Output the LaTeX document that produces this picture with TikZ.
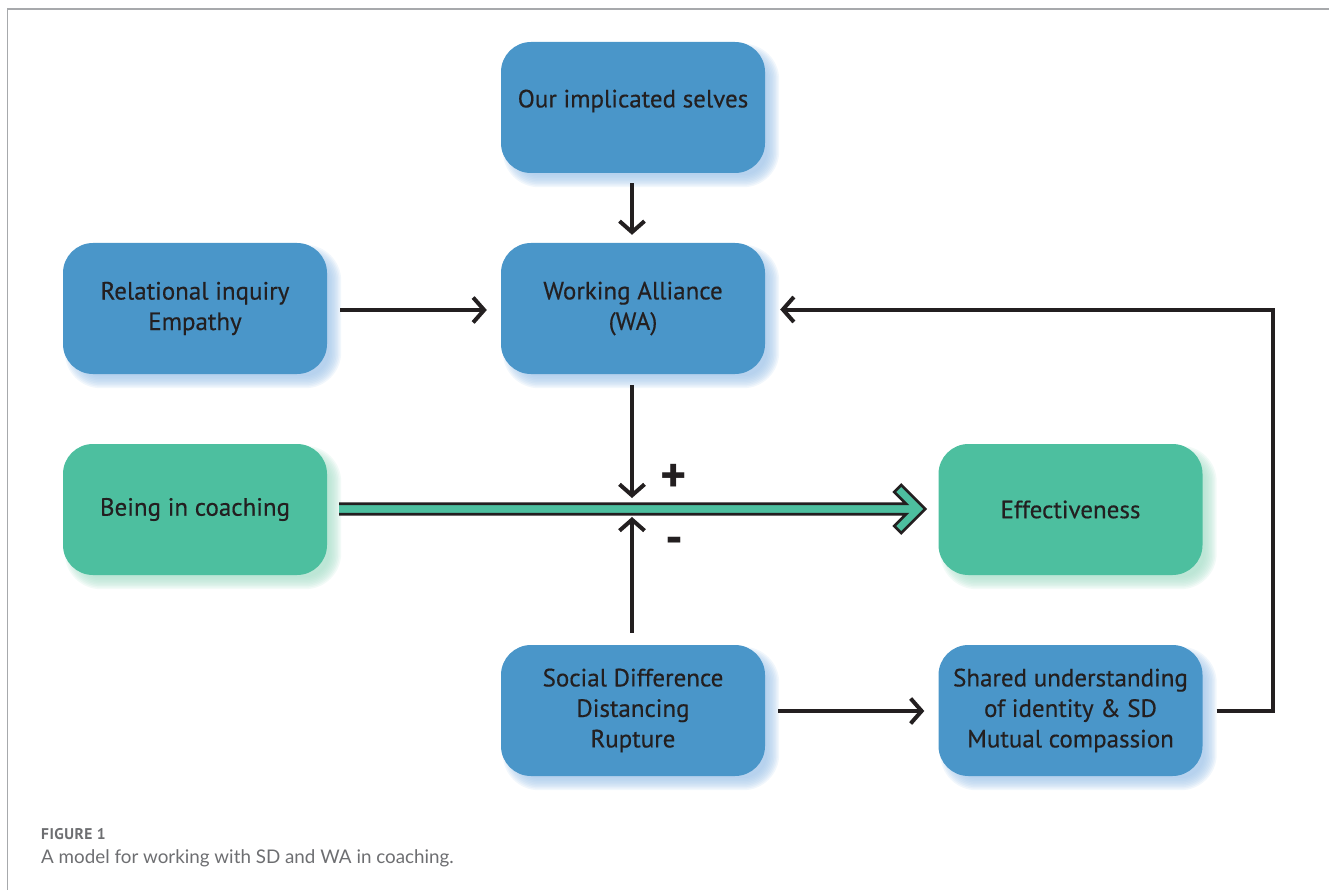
\documentclass[tikz,border=0pt]{standalone}
\usepackage{fontspec}
\setmainfont{PT Sans}
\newfontfamily\boxfont{PT Sans}[FakeBold=0.4]
\newfontfamily\capfont{Lato}
\newfontfamily\caplabelfont{PT Sans}[LetterSpace=3]
\usetikzlibrary{arrows.meta,calc}

\definecolor{boxblue}{HTML}{4A96C9}
\definecolor{boxgreen}{HTML}{4DBF9F}
\definecolor{shblue}{HTML}{9EC3E8}
\definecolor{shgreen}{HTML}{A6DDC8}
\definecolor{ink}{HTML}{231F20}
\definecolor{framegray}{HTML}{A7A9AC}
\definecolor{capgray}{HTML}{6D6E71}

\pgfdeclarelayer{background}
\pgfsetlayers{background,main}

\tikzset{
  box/.style={rounded corners=30pt, minimum width=264pt, minimum height=131pt,
    inner sep=0pt, align=center, text=ink, font=\boxfont\fontsize{25}{30.5}\selectfont},
  bluebox/.style={box, fill=boxblue},
  greenbox/.style={box, fill=boxgreen},
  boxtext/.style={inner sep=0pt, align=center, text=ink, font=\boxfont\fontsize{25}{30.5}\selectfont},
  arr/.style={draw=ink, line width=4pt, -{Straight Barb[length=11pt, width=25pt]}},
  sign/.style={inner sep=0pt, text=ink, font=\bfseries\fontsize{50}{50}\selectfont},
  captext/.style={anchor=base west, inner sep=0pt, text=capgray},
}

% soft drop shadow below and right of a box
\newcommand{\softshadow}[2]{%
  \foreach \d in {6,4.5,...,-6}{%
    \pgfmathsetmacro{\rr}{30+\d}%
    \fill[#2, opacity=0.14, rounded corners=\rr pt]
      ($(#1.south west)+(8-\d,8+\d)$) rectangle ($(#1.north east)+(8+\d,8-\d)$);
  }}

\begin{document}
\begin{tikzpicture}[x=1pt, y=-1pt]
\useasboundingbox (0,0) rectangle (1329,890);

% frame
\draw[framegray, line width=1.6pt] (7.5,890) -- (7.5,9) -- (1329,9);

% boxes
\node[bluebox] (imp) at (633,107.5) {};
\node[boxtext] (imptext) at (633,101) {Our implicated selves};
\node[bluebox] (wa) at (633,308.5) {Working Alliance\\(WA)};
\node[bluebox] (rel) at (195,308.5) {Relational inquiry\\Empathy};
\node[greenbox] (being) at (195,509.5) {Being in coaching};
\node[greenbox] (eff) at (1070.5,509.5) {Effectiveness};
\node[bluebox] (sd) at (633,710.5) {Social Difference\\Distancing\\Rupture};
\node[bluebox] (shared) at (1070.5,710.5) {Shared understanding\\of identity \& SD\\Mutual compassion};

\begin{pgfonlayer}{background}
  \softshadow{imp}{shblue}
  \softshadow{wa}{shblue}
  \softshadow{rel}{shblue}
  \softshadow{sd}{shblue}
  \softshadow{shared}{shblue}
  \softshadow{being}{shgreen}
  \softshadow{eff}{shgreen}
\end{pgfonlayer}

% main green arrow: being in coaching -> effectiveness
\coordinate (gs) at ([xshift=12pt,yshift=0.5pt]being.east);
\coordinate (gt) at ([xshift=-13pt,yshift=0.5pt]eff.west);
\coordinate (jn) at ([xshift=-1pt]wa.south |- gs);
\fill[boxgreen] ($(gs)+(0,-5.3)$) -- ($(gt)+(-19.3,-5.3)$) -- ($(gt)+(-31,-17)$)
  -- ($(gt)+(-24,-24)$) -- (gt) -- ($(gt)+(-24,24)$) -- ($(gt)+(-31,17)$)
  -- ($(gt)+(-19.3,5.3)$) -- ($(gs)+(0,5.3)$) -- cycle;
\draw[ink, line width=2.7pt, miter limit=10] ($(gs)+(0,-5.3)$) -- ($(gt)+(-19.3,-5.3)$)
  -- ($(gt)+(-31,-17)$) -- ($(gt)+(-24,-24)$) -- (gt) -- ($(gt)+(-24,24)$)
  -- ($(gt)+(-31,17)$) -- ($(gt)+(-19.3,5.3)$) -- ($(gs)+(0,5.3)$);

% connectors
\draw[arr] ([xshift=-1pt,yshift=-10pt]imp.south) -- ([xshift=-1pt,yshift=8pt]wa.north);
\draw[arr] ([xshift=13pt,yshift=-1.5pt]rel.east) -- ([xshift=-14pt,yshift=-1.5pt]wa.west);
\draw[arr] ([xshift=-1pt,yshift=-11pt]wa.south) -- ([yshift=11pt]jn);
\draw[arr] ([xshift=-1pt,yshift=12pt]sd.north) -- ([yshift=-8pt]jn);
\draw[arr] ([xshift=13pt,yshift=-0.5pt]sd.east) -- ([xshift=-14pt,yshift=-0.5pt]shared.west);
\coordinate (fbr) at (1273,710);
\draw[arr] ([xshift=14pt,yshift=-0.5pt]shared.east) -| ([yshift=-1pt]wa.east -| fbr)
  -- ([xshift=15pt,yshift=-1pt]wa.east);

% signs
\node[sign] (plus) at (674,478) {+};
\node[sign] (minus) at (674,546) {-};

% caption
\node[captext, font=\caplabelfont\bfseries\fontsize{15.5}{18}\selectfont] (figlabel) at (41,839.5) {FIGURE 1};
\node[captext, font=\capfont\fontsize{18.8}{22}\selectfont] (figcap) at (41,863) {A model for working with SD and WA in coaching.};
\end{tikzpicture}
\end{document}
